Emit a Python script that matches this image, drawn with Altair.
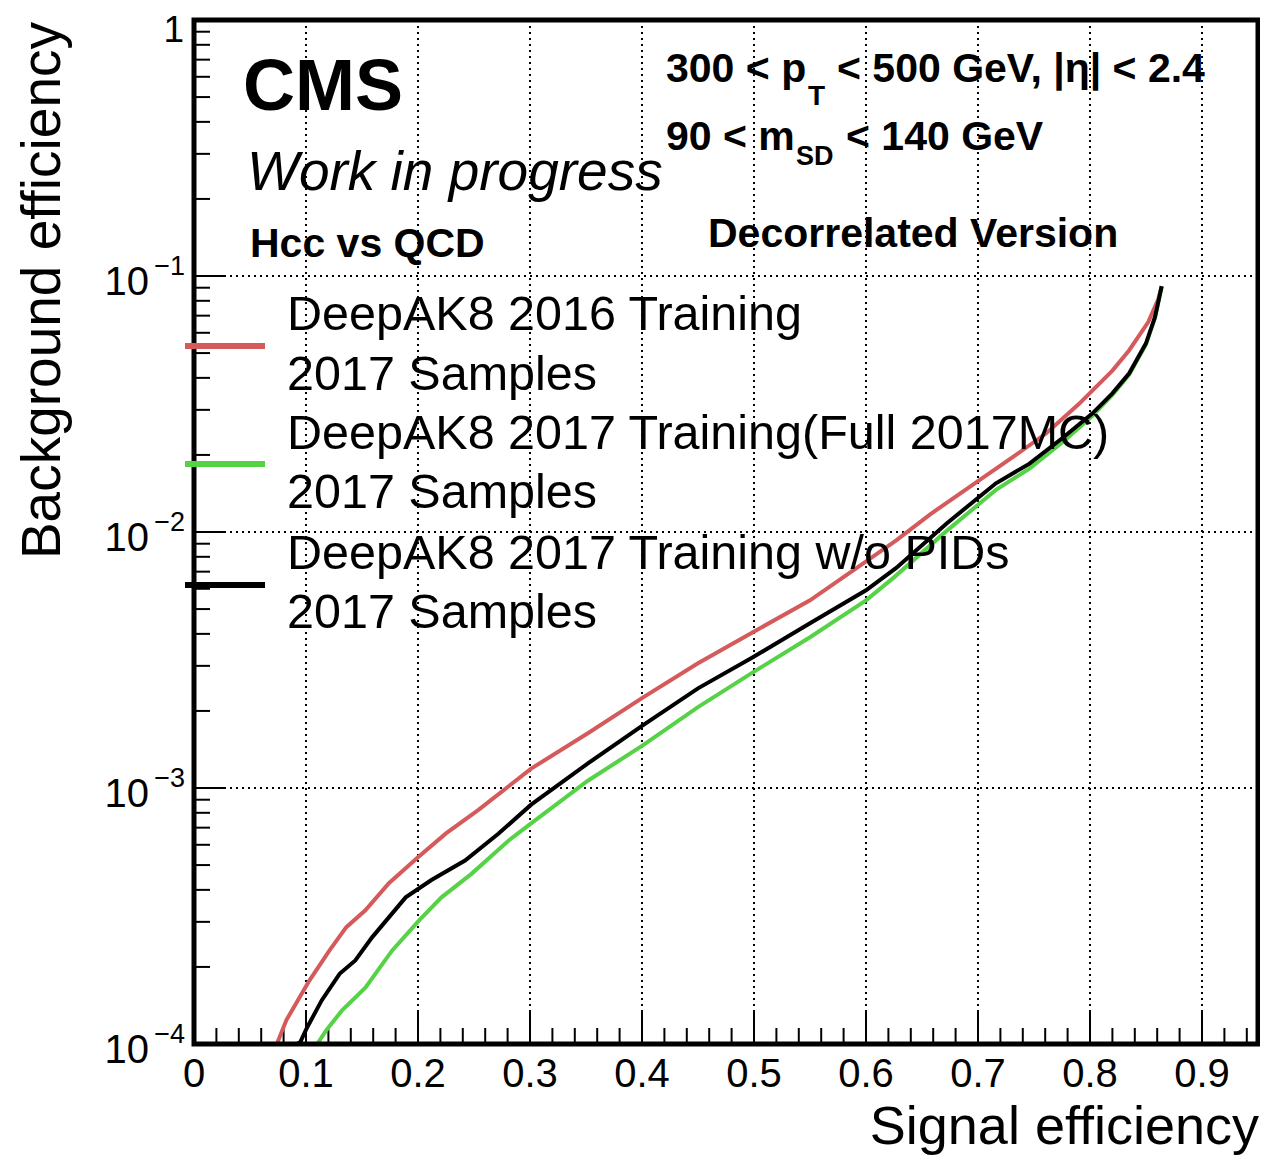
import altair as alt
import pandas as pd

FONT = "Liberation Sans"
W, H = 1064, 1024

# ---------------- data ----------------
series_names = [
    "DeepAK8 2016 Training",
    "DeepAK8 2017 Training(Full 2017MC)",
    "DeepAK8 2017 Training w/o PIDs",
]
series_colors = ["#d45a5c", "#55d246", "#000000"]

red_sig = [0.074, 0.0825, 0.103, 0.121, 0.136, 0.153, 0.174, 0.200, 0.225, 0.254,
           0.301, 0.352, 0.401, 0.450, 0.499, 0.550, 0.595, 0.627, 0.657, 0.700,
           0.731, 0.761, 0.790, 0.820, 0.835, 0.852, 0.861, 0.864]
red_bkg = [1.00e-4, 1.24e-4, 1.77e-4, 2.32e-4, 2.86e-4, 3.33e-4, 4.25e-4, 5.36e-4, 6.65e-4, 8.22e-4,
           1.19e-3, 1.64e-3, 2.26e-3, 3.07e-3, 4.06e-3, 5.41e-3, 7.41e-3, 9.27e-3, 1.17e-2, 1.58e-2,
           1.96e-2, 2.43e-2, 3.16e-2, 4.27e-2, 5.13e-2, 6.61e-2, 8.13e-2, 9.12e-2]

green_sig = [0.110, 0.118, 0.132, 0.153, 0.177, 0.201, 0.221, 0.248, 0.281, 0.301,
             0.352, 0.401, 0.450, 0.499, 0.550, 0.600, 0.625, 0.672, 0.716, 0.746,
             0.776, 0.802, 0.820, 0.835, 0.850, 0.858, 0.864]
green_bkg = [1.00e-4, 1.13e-4, 1.35e-4, 1.66e-4, 2.32e-4, 3.04e-4, 3.74e-4, 4.63e-4, 6.24e-4, 7.28e-4,
             1.07e-3, 1.47e-3, 2.07e-3, 2.83e-3, 3.88e-3, 5.41e-3, 6.65e-3, 1.01e-2, 1.46e-2, 1.77e-2,
             2.25e-2, 2.84e-2, 3.43e-2, 4.12e-2, 5.40e-2, 6.87e-2, 9.12e-2]

black_sig = [0.092, 0.095, 0.101, 0.114, 0.130, 0.144, 0.159, 0.189, 0.212, 0.242,
             0.272, 0.301, 0.352, 0.401, 0.450, 0.499, 0.550, 0.600, 0.627, 0.672,
             0.716, 0.746, 0.776, 0.802, 0.820, 0.835, 0.850, 0.858, 0.864]
black_bkg = [1.00e-4, 1.02e-4, 1.16e-4, 1.48e-4, 1.88e-4, 2.12e-4, 2.61e-4, 3.74e-4, 4.37e-4, 5.21e-4,
             6.64e-4, 8.61e-4, 1.25e-3, 1.76e-3, 2.45e-3, 3.24e-3, 4.40e-3, 5.92e-3, 7.24e-3, 1.08e-2,
             1.55e-2, 1.85e-2, 2.34e-2, 2.90e-2, 3.48e-2, 4.17e-2, 5.46e-2, 6.90e-2, 9.12e-2]

x_major = [0.1, 0.2, 0.3, 0.4, 0.5, 0.6, 0.7, 0.8, 0.9]
x_minor = [0.02, 0.04, 0.06, 0.08, 0.12, 0.14, 0.16, 0.18, 0.22, 0.24, 0.26, 0.28,
           0.32, 0.34, 0.36, 0.38, 0.42, 0.44, 0.46, 0.48, 0.52, 0.54, 0.56, 0.58,
           0.62, 0.64, 0.66, 0.68, 0.72, 0.74, 0.76, 0.78, 0.82, 0.84, 0.86, 0.88,
           0.92, 0.94]
x_label_vals = [0, 0.1, 0.2, 0.3, 0.4, 0.5, 0.6, 0.7, 0.8, 0.9]
x_label_txt = ["0", "0.1", "0.2", "0.3", "0.4", "0.5", "0.6", "0.7", "0.8", "0.9"]

y_major = [1e-3, 1e-2, 1e-1]
y_decades = [1e-4, 1e-3, 1e-2, 1e-1]
y_exp_txt = ["\u22124", "\u22123", "\u22122", "\u22121"]
y_minor = [m * d for d in [1e-4, 1e-3, 1e-2, 1e-1] for m in range(2, 10)]

legend_lines = [
    ("DeepAK8 2016 Training", "2017 Samples"),
    ("DeepAK8 2017 Training(Full 2017MC)", "2017 Samples"),
    ("DeepAK8 2017 Training w/o PIDs", "2017 Samples"),
]

# ---------------- scales ----------------
xs = alt.Scale(domain=[0, 0.95], nice=False, zero=False)
ys = alt.Scale(type="log", domain=[1e-4, 1], nice=False)


def curve(sig, bkg, color):
    df = pd.DataFrame({"sig": sig, "bkg": bkg, "i": list(range(len(sig)))})
    return alt.Chart(df).mark_line(strokeWidth=4, clip=True, color=color).encode(
        x=alt.X("sig:Q", scale=xs, axis=None),
        y=alt.Y("bkg:Q", scale=ys, axis=None),
        order="i:Q",
    )


def vrules(vals, y1, y2, dash=None, width=2):
    kw = dict(color="black", strokeWidth=width)
    if dash:
        kw["strokeDash"] = dash
    return alt.Chart(pd.DataFrame({"v": vals})).mark_rule(**kw).encode(
        x=alt.X("v:Q", scale=xs, axis=None), y=alt.value(y1), y2=alt.value(y2))


def hrules(vals, x1, x2, dash=None, width=2):
    kw = dict(color="black", strokeWidth=width)
    if dash:
        kw["strokeDash"] = dash
    return alt.Chart(pd.DataFrame({"v": vals})).mark_rule(**kw).encode(
        y=alt.Y("v:Q", scale=ys, axis=None), x=alt.value(x1), x2=alt.value(x2))


def txt(t, x, y, size, weight="normal", style="normal", align="left", angle=0):
    kw = dict(font=FONT, fontSize=size, fontWeight=weight, fontStyle=style,
              align=align, baseline="alphabetic", color="black")
    if angle:
        kw["angle"] = angle
    return alt.Chart(pd.DataFrame({"t": [t]})).mark_text(**kw).encode(
        text="t:N", x=alt.value(x), y=alt.value(y))


layers = []
# grid
layers.append(vrules(x_major, 0, H, dash=[2, 4], width=2))
layers.append(hrules(y_major, 0, W, dash=[2, 4], width=2))
# ticks
layers.append(vrules(x_major, H, H - 32))
layers.append(vrules(x_minor, H, H - 16))
layers.append(hrules(y_major, 0, 32))
layers.append(hrules(y_minor, 0, 16))

# curves
layers.append(curve(red_sig, red_bkg, series_colors[0]))
layers.append(curve(green_sig, green_bkg, series_colors[1]))
layers.append(curve(black_sig, black_bkg, series_colors[2]))

# frame (drawn on top of the curves)
layers.append(alt.Chart(pd.DataFrame({"a": [0]})).mark_rect(
    fill=None, fillOpacity=0, stroke="black", strokeWidth=5).encode(
    x=alt.value(0), x2=alt.value(W), y=alt.value(0), y2=alt.value(H)))

# x tick labels
layers.append(alt.Chart(pd.DataFrame({"v": x_label_vals, "t": x_label_txt})).mark_text(
    font=FONT, fontSize=40, align="center", baseline="alphabetic", color="black").encode(
    x=alt.X("v:Q", scale=xs, axis=None), y=alt.value(H + 43), text="t:N"))

# y tick labels 10^{-k}
ylab = pd.DataFrame({"v": y_decades, "t": ["10"] * len(y_decades), "e": y_exp_txt})
layers.append(alt.Chart(ylab).mark_text(
    font=FONT, fontSize=40, align="right", baseline="alphabetic", color="black", dy=19).encode(
    y=alt.Y("v:Q", scale=ys, axis=None), x=alt.value(-45), text="t:N"))
layers.append(alt.Chart(ylab).mark_text(
    font=FONT, fontSize=27, align="right", baseline="alphabetic", color="black", dy=-1).encode(
    y=alt.Y("v:Q", scale=ys, axis=None), x=alt.value(-9), text="e:N"))
layers.append(txt("1", -10, 22, 37, align="right"))

# axis titles
layers.append(txt("Signal efficiency", W + 1, H + 100, 54, align="right"))
layers.append(txt("Background efficiency", -134, 2, 55, align="right", angle=270))

# annotations
layers.append(txt("CMS", 49, 90, 72, weight="bold"))
layers.append(txt("Work in progress", 53, 170, 55, style="italic"))
layers.append(txt("Hcc vs QCD", 56, 237, 41, weight="bold"))
layers.append(txt("Decorrelated Version", 514, 227, 41, weight="bold"))
layers.append(txt("300 < p", 472, 62, 41, weight="bold"))
layers.append(txt("T", 614, 85, 28, weight="bold"))
layers.append(txt("< 500 GeV, |\u03b7| < 2.4", 643, 62, 41, weight="bold"))
layers.append(txt("90 < m", 472, 130, 41, weight="bold"))
layers.append(txt("SD", 602, 145, 27, weight="bold"))
layers.append(txt("< 140 GeV", 652, 130, 41, weight="bold"))

# legend
sample_y = [326, 444, 565]
text_y = [(310, 370), (429, 488), (549, 608)]
for (l1, l2), c, sy, (ty1, ty2) in zip(legend_lines, series_colors, sample_y, text_y):
    layers.append(alt.Chart(pd.DataFrame({"c": [c]})).mark_rule(color=c, strokeWidth=6).encode(
        x=alt.value(-9), x2=alt.value(71), y=alt.value(sy)))
    layers.append(txt(l1, 93, ty1, 48.5))
    layers.append(txt(l2, 93, ty2, 48.5))

chart = alt.layer(*layers).properties(
    width=W, height=H,
    autosize=alt.AutoSizeParams(type="none"),
    padding={"left": 186, "top": 12, "right": 2, "bottom": 112},
    background="white",
).configure(font=FONT).configure_view(stroke=None)

chart.save("out.html", embed_options={"renderer": "svg", "actions": False})
